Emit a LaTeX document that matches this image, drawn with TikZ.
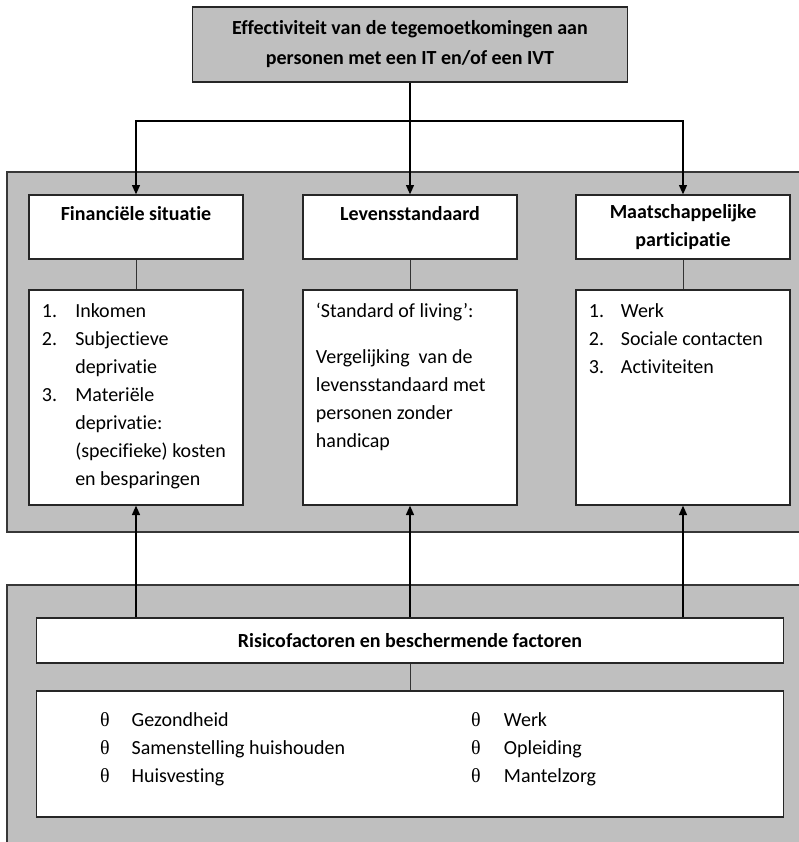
\documentclass[tikz,border=0pt]{standalone}
\usepackage{fontspec}
\setmainfont{Carlito}[Ligatures=NoCommon]
\newfontfamily\thetafont{Liberation Serif}
\usetikzlibrary{arrows.meta}
\definecolor{panelgray}{RGB}{191,191,191}
\definecolor{edgegray}{RGB}{55,55,55}

\begin{document}
\begin{tikzpicture}[x=0.75pt, y=-0.75pt,
    >={Triangle[length=7pt, width=6pt]},
    every node/.style={font=\fontsize{15}{21}\selectfont},
    panel/.style={draw=edgegray, fill=panelgray, line width=1pt},
    box/.style={draw=black!85, fill=white, line width=1pt, inner sep=0pt},
    titlebox/.style={box, fill=panelgray, minimum width=326.25pt, minimum height=56.25pt, align=center, font=\fontsize{15}{22.5}\selectfont\bfseries},
    headbox/.style={box, minimum width=160.5pt, minimum height=48pt, align=center, font=\fontsize{15}{21}\selectfont\bfseries},
    listbox/.style={box, minimum width=160.5pt, minimum height=161.25pt},
    widebox/.style={box, minimum width=560.25pt},
    listtext/.style={anchor=north west, inner sep=0pt, align=left},
    arrow/.style={->, line width=1pt},
    link/.style={line width=0.7pt, draw=black!80}]
\useasboundingbox (0,0) rectangle (799,842);
\clip (0,0) rectangle (799,842);
\draw [panel] (7,172) rectangle (815,532);
\draw [panel] (7,585) rectangle (815,860);
\node [titlebox] (top) at (410,44.5) {Effectiviteit van de tegemoetkomingen aan\\personen met een IT en/of een IVT};
\coordinate (split) at (410,121);
\node [headbox] (fin) at (136,227) {Financiële situatie\\\mbox{}};
\node [headbox] (lev) at (410,227) {Levensstandaard\\\mbox{}};
\node [headbox] (maat) at (683,227) {Maatschappelijke\\participatie};
\node [listbox] (finList) at (136,397.5) {};
\node [listbox] (levList) at (410,397.5) {};
\node [listbox] (maatList) at (683,397.5) {};
\node [listtext] (finItems) at ([shift={(10pt,-6pt)}]finList.north west) {\begin{tabular}{@{}p{25pt}@{}p{122pt}@{}}
1. & Inkomen\\
2. & Subjectieve\newline deprivatie\\
3. & Materiële\newline deprivatie:\newline (specifieke) kosten\newline en besparingen
\end{tabular}};
\node [listtext] (levItems) at ([shift={(10pt,-6pt)}]levList.north west) {\strut‘Standard of living’:\\[13.5pt]Vergelijking\ \ van de\\levensstandaard met\\personen zonder\\handicap};
\node [listtext] (maatItems) at ([shift={(10pt,-6pt)}]maatList.north west) {\begin{tabular}{@{}p{24pt}@{}p{122pt}@{}}
1. & Werk\\
2. & Sociale contacten\\
3. & Activiteiten
\end{tabular}};
\node [widebox, minimum height=33.75pt, font=\fontsize{15}{21}\selectfont\bfseries] (risk) at (410,640.5) {Risicofactoren en beschermende factoren};
\node [widebox, minimum height=94.5pt] (riskList) at (410,754) {};
\node [anchor=west, inner sep=0pt] (riskItems) at ([shift={(48pt,3.75pt)}]riskList.west) {\begin{tabular}{@{}p{23.7pt}@{}p{254.5pt}@{}p{24.7pt}@{}l@{}}
{\thetafont θ} & Gezondheid & {\thetafont θ} & Werk\\
{\thetafont θ} & Samenstelling huishouden & {\thetafont θ} & Opleiding\\
{\thetafont θ} & Huisvesting & {\thetafont θ} & Mantelzorg
\end{tabular}};
\draw [arrow] (top.south) -- (lev.north);
\draw [arrow] (split) -| (fin.north);
\draw [arrow] (split) -| (maat.north);
\draw [link] (fin.south) -- (finList.north);
\draw [link] (lev.south) -- (levList.north);
\draw [link] (maat.south) -- (maatList.north);
\draw [arrow] (risk.north -| finList.south) -- (finList.south);
\draw [arrow] (risk.north) -- (levList.south);
\draw [arrow] (risk.north -| maatList.south) -- (maatList.south);
\draw [link] (risk.south) -- (riskList.north);
\end{tikzpicture}
\end{document}
